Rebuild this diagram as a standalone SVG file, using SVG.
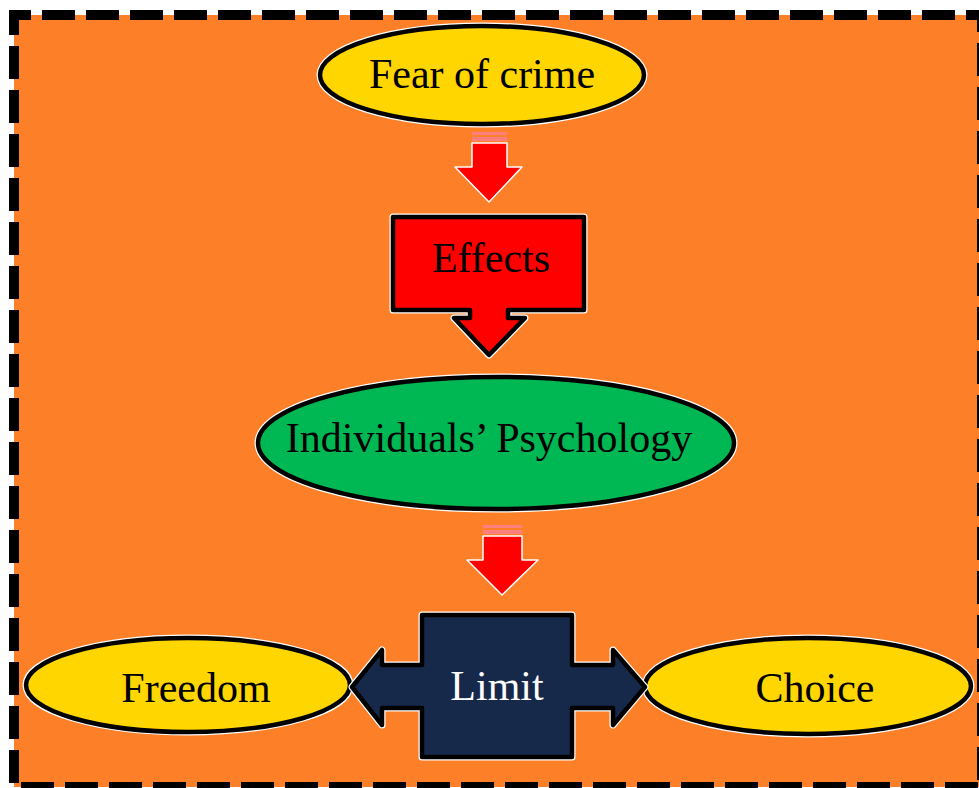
<svg xmlns="http://www.w3.org/2000/svg" width="979" height="788" viewBox="0 0 979 788">
<style>
.t{font-family:"Liberation Serif","Times New Roman",serif;font-size:42px;text-anchor:middle;fill:#000}
.halo{stroke:#fff;stroke-width:7;stroke-linejoin:round}
.sh{stroke:#000;stroke-width:4.5;stroke-linejoin:round}
.red{fill:#FF0000}
.stripe{fill:#FF7F7F}
</style>
<rect width="979" height="788" fill="#fff"/>
<rect x="14" y="15" width="968" height="772" fill="#FD7F27" stroke="#000" stroke-width="10" stroke-dasharray="33 11" stroke-dashoffset="16"/>
<g id="connectors">
  <g id="arrow1">
    <path d="M472,143 H507 V167 H522 L489,202 L455,167 H472 Z" class="red" stroke="#fff" stroke-width="1.5" stroke-linejoin="round"/>
    <rect x="472" y="132" width="35" height="3" class="stripe"/>
    <rect x="472" y="137" width="35" height="4" class="stripe"/>
  </g>
  <g id="arrow2">
    <path d="M483,536 H522 V560 H538 L502,595 L467,560 H483 Z" class="red" stroke="#fff" stroke-width="1.5" stroke-linejoin="round"/>
    <rect x="483" y="525" width="39" height="3" class="stripe"/>
    <rect x="483" y="530" width="39" height="4" class="stripe"/>
  </g>
</g>
<g id="fear">
  <ellipse cx="482" cy="75" rx="162" ry="49" class="halo" fill="none"/>
  <ellipse cx="482" cy="75" rx="162" ry="49" fill="#FFD600" class="sh"/>
  <text x="482" y="88" class="t">Fear of crime</text>
</g>
<g id="effects">
  <path d="M393,217 H584 V310 H508 V318 H525 L489,355 L454,318 H470 V310 H393 Z" class="halo" fill="none"/>
  <path d="M393,217 H584 V310 H508 V318 H525 L489,355 L454,318 H470 V310 H393 Z" fill="#FF0000" class="sh"/>
  <text x="491" y="272" class="t">Effects</text>
</g>
<g id="psychology">
  <ellipse cx="496" cy="443" rx="238" ry="66" class="halo" fill="none"/>
  <ellipse cx="496" cy="443" rx="238" ry="66" fill="#00B853" class="sh"/>
  <text x="489" y="452" class="t">Individuals’ Psychology</text>
</g>
<g id="freedom">
  <ellipse cx="188" cy="685" rx="162" ry="47" class="halo" fill="none"/>
  <ellipse cx="188" cy="685" rx="162" ry="47" fill="#FFD600" class="sh"/>
  <text x="196" y="702" class="t">Freedom</text>
</g>
<g id="choice">
  <ellipse cx="808" cy="686" rx="163" ry="48" class="halo" fill="none"/>
  <ellipse cx="808" cy="686" rx="163" ry="48" fill="#FFD600" class="sh"/>
  <text x="815" y="702" class="t">Choice</text>
</g>
<g id="limit">
  <path d="M422,615 H572 V665 H613 V650 L645,687 L613,725 V708 H572 V757 H422 V708 H382 V725 L352,687 L382,650 V665 H422 Z" class="halo" fill="none"/>
  <path d="M422,615 H572 V665 H613 V650 L645,687 L613,725 V708 H572 V757 H422 V708 H382 V725 L352,687 L382,650 V665 H422 Z" fill="#17294A" class="sh"/>
  <text x="497" y="700" class="t" style="fill:#fff">Limit</text>
</g>
</svg>
